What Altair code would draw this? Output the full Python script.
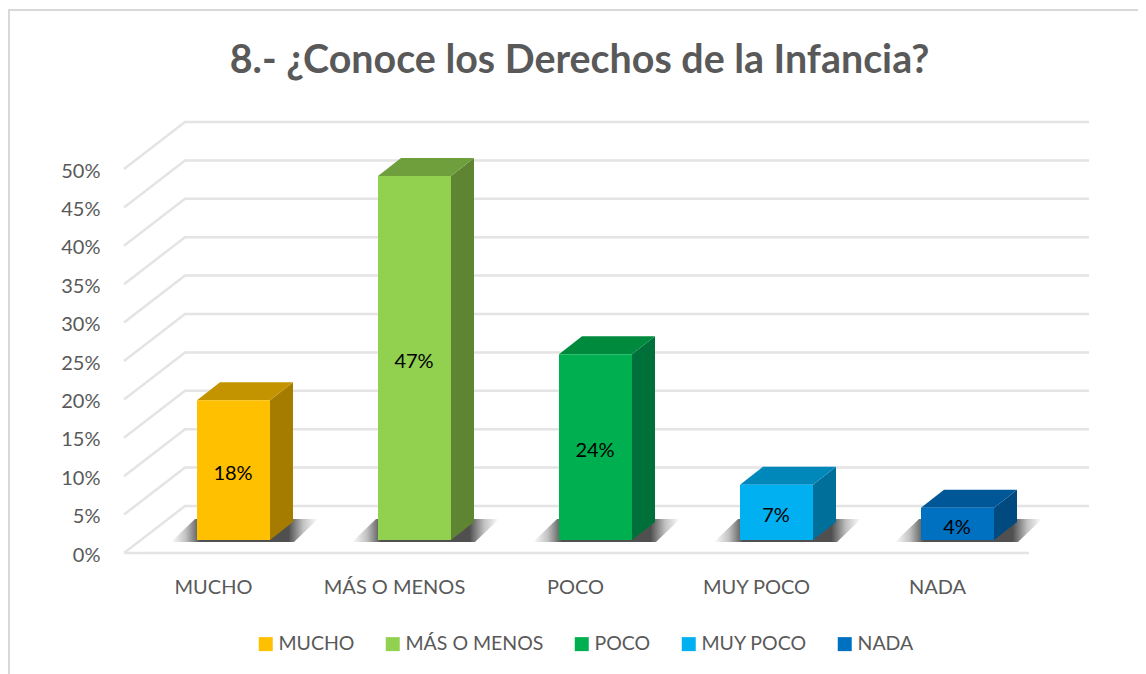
import json
import altair as alt
import pandas as pd

categories = ["MUCHO", "MÁS O MENOS", "POCO", "MUY POCO", "NADA"]
values = [0.182, 0.474, 0.242, 0.072, 0.042]
front_colors = ["#FFC000", "#92D050", "#00B050", "#00B0F0", "#0070C0"]
top_colors = ["#C49400", "#6F9E3D", "#008A3E", "#0088BB", "#005798"]
side_colors = ["#A67C00", "#5F8432", "#00703A", "#006F9A", "#004A80"]
ticks = [0, 0.05, 0.10, 0.15, 0.20, 0.25, 0.30, 0.35, 0.40, 0.45, 0.50]
title_text = "8.- ¿Conoce los Derechos de la Infancia?"

FONT = "Lato"
TEXT = "#595959"
GRID = "#E4E4E4"
PW, PH = 965, 431
PX_X = 181.0   # px per category
PX_Y = 768.0   # px per unit of share
XMAX = PW / PX_X
YMAX = PH / PX_Y
WALL_X, WALL_Y = 61 / PX_X, 47 / PX_Y
BAR_X, BAR_W = 73 / PX_X, 73 / PX_X
DEP_X, DEP_Y = 23 / PX_X, 18 / PX_Y
BASE = 13 / PX_Y

xs = alt.Scale(domain=[0, XMAX], nice=False, zero=False)
ys = alt.Scale(domain=[0, YMAX], nice=False, zero=False)
xaxis = alt.Axis(
    values=[i + 0.5 for i in range(len(categories))],
    labelExpr=json.dumps(categories, ensure_ascii=False) + "[round(datum.value-0.5)]",
    title=None, domain=False, ticks=False, grid=False, labelPadding=24, labelOffset=-1.5,
    labelFont=FONT, labelFontSize=20, labelColor=TEXT, labelOverlap=False, labelFlush=False,
)
yaxis = alt.Axis(
    values=ticks, format=".0%", title=None, domain=False, ticks=False, grid=False,
    labelPadding=24, labelOffset=2, labelFont=FONT, labelFontSize=20, labelColor=TEXT, labelOverlap=False,
    labelFlush=False,
)
X = alt.X("x:Q", scale=xs, axis=xaxis)
Y = alt.Y("y:Q", scale=ys, axis=yaxis)
Y2 = alt.Y2("y2:Q")

# gridlines
rows = []
for t in ticks:
    for x_, y_ in [(0, t), (WALL_X, t + WALL_Y), (XMAX, t + WALL_Y)]:
        rows.append({"x": x_, "y": y_, "k": str(t)})
rows += [{"x": 0, "y": 0, "k": "front"}, {"x": 5, "y": 0, "k": "front"}]
grid = alt.Chart(pd.DataFrame(rows)).mark_line(strokeWidth=2.5, color=GRID).encode(
    x=X, y=Y, detail="k:N"
)


def shadow(left, right, low, high):
    rs = []
    for i, c in enumerate(categories):
        a = i + BAR_X - left / PX_X
        b = i + BAR_X + BAR_W + right / PX_X
        d = 24 / PX_X
        rs += [
            {"x": a, "y": low, "y2": low, "c": c},
            {"x": a + d, "y": high, "y2": low, "c": c},
            {"x": b - d, "y": high, "y2": low, "c": c},
            {"x": b, "y": high, "y2": high, "c": c},
        ]
    grad = alt.Gradient(
        gradient="linear", x1=0, x2=1, y1=0, y2=0,
        stops=[
            alt.GradientStop(offset=0, color="rgba(80,80,80,0)"),
            alt.GradientStop(offset=0.1, color="rgba(80,80,80,0.35)"),
            alt.GradientStop(offset=0.2, color="rgba(80,80,80,1)"),
            alt.GradientStop(offset=0.8, color="rgba(80,80,80,1)"),
            alt.GradientStop(offset=0.9, color="rgba(80,80,80,0.35)"),
            alt.GradientStop(offset=1, color="rgba(80,80,80,0)"),
        ],
    )
    return alt.Chart(pd.DataFrame(rs)).mark_area(color=grad, orient="vertical").encode(
        x=X, y=Y, y2=Y2, detail="c:N"
    )


shadow_m = shadow(26, 48, 11 / PX_Y, 34 / PX_Y)

side_rows, top_rows, front_rows = [], [], []
for i, (c, v) in enumerate(zip(categories, values)):
    x0 = i + BAR_X
    x1 = x0 + BAR_W
    yb, yt = BASE, BASE + v
    side_rows += [
        {"x": x1, "y": yt, "y2": yb, "c": c, "col": side_colors[i]},
        {"x": x1 + DEP_X, "y": yt + DEP_Y, "y2": yb + DEP_Y, "c": c, "col": side_colors[i]},
    ]
    top_rows += [
        {"x": x0, "y": yt, "y2": yt, "c": c, "col": top_colors[i]},
        {"x": x0 + DEP_X, "y": yt + DEP_Y, "y2": yt, "c": c, "col": top_colors[i]},
        {"x": x1, "y": yt + DEP_Y, "y2": yt, "c": c, "col": top_colors[i]},
        {"x": x1 + DEP_X, "y": yt + DEP_Y, "y2": yt + DEP_Y, "c": c, "col": top_colors[i]},
    ]
    front_rows.append({"x": x0, "x2": x1, "y": yt, "y2": yb, "c": c, "v": v, "mx": (x0 + x1) / 2, "my": yb + v / 2})

side = alt.Chart(pd.DataFrame(side_rows)).mark_area(orient="vertical").encode(
    x=X, y=Y, y2=Y2, fill=alt.Fill("col:N", scale=None, legend=None), detail="c:N"
)
top = alt.Chart(pd.DataFrame(top_rows)).mark_area(orient="vertical").encode(
    x=X, y=Y, y2=Y2, fill=alt.Fill("col:N", scale=None, legend=None), detail="c:N"
)
front_df = pd.DataFrame(front_rows)
front = alt.Chart(front_df).mark_rect().encode(
    x=X, x2="x2:Q", y=Y, y2=Y2,
    color=alt.Color(
        "c:N",
        scale=alt.Scale(domain=categories, range=front_colors),
        sort=categories,
        legend=alt.Legend(
            orient="none", legendX=132, legendY=512, direction="horizontal", columns=5, title=None,
            symbolType="square", symbolSize=196, symbolStrokeWidth=0, labelFont=FONT, labelFontSize=19.5,
            labelColor=TEXT, columnPadding=28, labelOffset=3, padding=0,
        ),
    ),
)
labels = alt.Chart(front_df).mark_text(font=FONT, fontSize=20, color="#000000", baseline="middle", dy=4, dx=-0.5).encode(
    x=alt.X("mx:Q", scale=xs, axis=xaxis), y=alt.Y("my:Q", scale=ys, axis=yaxis),
    text=alt.Text("v:Q", format=".0%"),
)

FRAME = "#D9D9D9"
frame_top = alt.Chart(pd.DataFrame({"a": [0]})).mark_rule(color=FRAME, strokeWidth=2).encode(
    x=alt.value(-116), x2=alt.value(1014), y=alt.value(-112)
)
frame_left = alt.Chart(pd.DataFrame({"a": [0]})).mark_rule(color=FRAME, strokeWidth=2).encode(
    x=alt.value(-115), y=alt.value(-113), y2=alt.value(552)
)

chart = alt.layer(frame_top, frame_left, grid, shadow_m, side, top, front, labels).properties(
    width=PW, height=PH,
    title=alt.TitleParams(
        title_text, font=FONT, fontSize=39.4, fontWeight="bold", color=TEXT,
        anchor="middle", dx=-27, offset=-73, frame="group",
    ),
    padding={"left": 116, "top": 114, "right": 49, "bottom": 121},
    autosize=alt.AutoSizeParams(type="none"),
    background="white",
).configure_view(stroke=None)

chart.save("out.html", embed_options={"renderer": "svg", "actions": False})
